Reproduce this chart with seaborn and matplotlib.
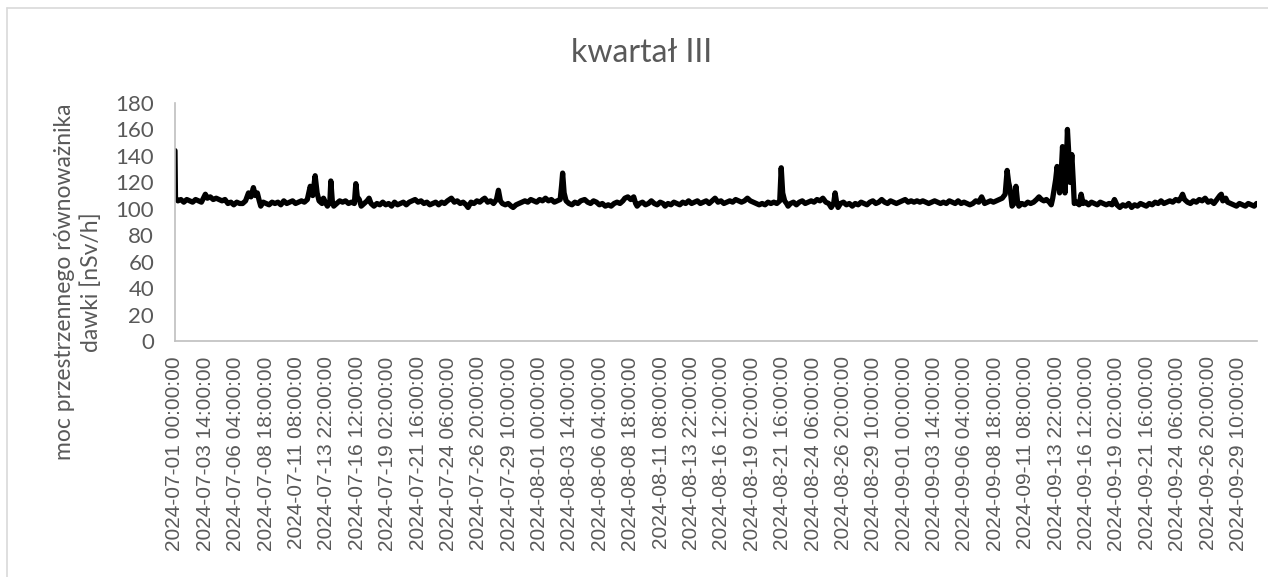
import matplotlib
matplotlib.use('Agg')
import matplotlib.pyplot as plt
import seaborn as sns
import pandas as pd
from matplotlib.lines import Line2D

# Godziny od 2024-07-01 00:00 i odczytane wartości mocy dawki [nSv/h]
hours_a = [0, 1, 6, 12, 18, 24, 30, 36, 42, 48, 54, 62, 66, 72, 78, 84, 90, 96, 102, 108,
           114, 120, 126, 132, 138, 144, 150, 155, 160, 164, 168, 172, 175, 180, 186, 192,
           198, 204, 210, 216, 222, 228, 234, 240, 246, 252, 258, 264, 270, 276, 281, 286,
           290, 294, 300, 303, 308, 311, 316, 318, 321, 324, 330, 336, 342, 348, 354, 360,
           366, 369, 372, 376, 380, 386, 392, 396, 400, 406, 412, 418, 424, 430, 436, 442,
           448, 454, 460, 466, 472, 478, 484, 490, 496, 502, 508, 514, 520, 526, 532, 538, 544]
dose_a = [144, 108, 106, 107, 105, 107, 106, 105, 107, 106, 105, 111, 108, 109, 107, 108, 107, 106, 107, 104,
          105, 103, 105, 104, 104, 106, 112, 109, 116, 110, 112, 106, 102, 105, 104, 103,
          105, 104, 105, 103, 106, 104, 105, 106, 104, 105, 106, 105, 107, 117, 110, 125,
          112, 106, 104, 108, 104, 102, 105, 121, 106, 102, 104, 106, 105, 106, 104, 105,
          104, 119, 109, 107, 102, 104, 106, 108, 104, 102, 104, 103, 105, 103, 104, 102,
          105, 103, 104, 105, 103, 105, 106, 107, 105, 106, 104, 105, 103, 104, 105, 103, 105]

hours_b = [550, 556, 564, 570, 576, 582, 588, 594, 598, 604, 610, 616, 622, 628, 632, 638, 644, 650,
           656, 660, 664, 668, 674, 680, 686, 690, 696, 702, 708, 714, 720, 726, 732, 738, 744, 750,
           756, 762, 768, 774, 780, 786, 789, 791, 794, 798, 804, 810, 816, 822, 828, 836, 842, 848,
           854, 860, 866, 872, 878, 884, 890, 896, 902, 908, 914, 918, 924, 930, 936, 940, 943, 948,
           954, 960, 966, 972, 978, 984, 990, 996, 1000, 1006, 1012, 1018, 1024, 1030, 1036, 1042,
           1048, 1054, 1060, 1066, 1072, 1078, 1084, 1090, 1096]
dose_b = [104, 106, 108, 105, 106, 104, 105, 103, 101, 105, 104, 106, 105, 107, 108, 105, 106, 104,
          107, 114, 106, 104, 103, 104, 102, 101, 103, 104, 105, 106, 105, 107, 106, 105, 107, 106,
          108, 106, 107, 105, 106, 107, 118, 127, 112, 106, 104, 103, 105, 104, 106, 107, 105, 104,
          106, 105, 103, 104, 102, 103, 102, 104, 105, 104, 106, 108, 109, 107, 109, 104, 102, 104,
          105, 103, 104, 106, 104, 103, 105, 104, 102, 104, 103, 105, 104, 103, 105, 104,
          106, 104, 105, 106, 104, 105, 106, 104, 106]

hours_c = [1102, 1108, 1114, 1120, 1126, 1132, 1138, 1144, 1150, 1156, 1162, 1168, 1174, 1180, 1186,
           1192, 1198, 1204, 1210, 1216, 1222, 1228, 1234, 1237, 1240, 1244, 1248, 1251, 1256, 1262,
           1268, 1274, 1280, 1286, 1292, 1298, 1304, 1310, 1316, 1322, 1328, 1334, 1339, 1344, 1347,
           1350, 1353, 1358, 1364, 1370, 1376, 1382, 1388, 1394, 1400, 1406, 1412, 1418, 1424, 1430,
           1436, 1442, 1448, 1454, 1460, 1466, 1472, 1478, 1484, 1490, 1496, 1502, 1508, 1514, 1520,
           1526, 1532, 1538, 1544, 1550, 1556, 1562, 1568, 1574, 1580, 1586, 1592, 1598, 1604, 1610,
           1616, 1622, 1628, 1634]
dose_c = [108, 105, 106, 104, 105, 106, 105, 107, 106, 105, 106, 108, 106, 105, 104,
          103, 104, 103, 105, 104, 105, 104, 106, 131, 112, 106, 104, 102, 104, 105,
          103, 105, 106, 104, 105, 106, 105, 107, 106, 108, 105, 104, 101, 104, 112,
          105, 101, 104, 105, 103, 104, 102, 104, 103, 105, 104, 103, 105, 106, 104,
          105, 107, 105, 104, 106, 105, 104, 105, 106, 107, 105, 106, 105, 106, 105,
          106, 105, 104, 105, 106, 105, 104, 105, 104, 106, 105, 104, 106, 104, 105,
          104, 103, 104, 106]

hours_d = [1640, 1646, 1652, 1658, 1664, 1670, 1676, 1682, 1688, 1694, 1698, 1701, 1704, 1708, 1712,
           1716, 1719, 1722, 1728, 1734, 1740, 1746, 1752, 1758, 1763, 1768, 1773, 1778, 1784, 1788,
           1791, 1794, 1797, 1800, 1803, 1805, 1808, 1811, 1814, 1816, 1819, 1821, 1824, 1826, 1830,
           1833, 1835, 1840, 1845, 1849, 1853, 1858, 1864, 1870, 1876, 1882, 1888, 1894, 1900, 1906,
           1912, 1917, 1922, 1928, 1934, 1940, 1946, 1952, 1958, 1964, 1970, 1976, 1982, 1988, 1994,
           2000, 2006, 2012, 2018, 2024, 2030, 2036, 2042, 2048, 2052, 2056, 2060, 2066, 2072, 2078,
           2084, 2090, 2096, 2102, 2108, 2114, 2120, 2126, 2132, 2135, 2138, 2144, 2148, 2154, 2160,
           2166, 2172, 2178, 2184, 2190, 2196, 2202, 2207]
dose_d = [105, 109, 104, 105, 106, 105, 106, 107, 108, 111, 129, 120, 115, 102, 104,
          117, 106, 102, 104, 103, 105, 104, 105, 107, 109, 107, 106, 107, 105, 103,
          108, 115, 122, 132, 121, 112, 125, 147, 128, 112, 135, 160, 140, 120, 141,
          120, 104, 105, 103, 111, 104, 105, 103, 105, 104, 103, 105, 104, 103, 104,
          103, 107, 103, 101, 103, 102, 104, 101, 103, 102, 104, 103, 102, 104, 103,
          105, 104, 106, 104, 105, 106, 105, 107, 106, 108, 111, 107, 105, 104, 106,
          105, 107, 106, 108, 105, 106, 104, 107, 110, 111, 106, 108, 105, 104, 103,
          102, 104, 103, 102, 104, 103, 102, 104]

title = 'kwartał III'
y_label = 'moc przestrzennego równoważnika\ndawki [nSv/h]'
start = pd.Timestamp('2024-07-01 00:00:00')
tick_step = 62  # co 62 godziny, jak w Excelu

df = pd.DataFrame({'godzina': hours_a + hours_b + hours_c + hours_d,
                   'dawka': dose_a + dose_b + dose_c + dose_d})

sns.set_theme(style='white')
plt.rcParams['font.family'] = ['Lato', 'DejaVu Sans']
grey = '#595959'

fig = plt.figure(figsize=(12.68, 5.77), dpi=100)
ax = fig.add_axes([0.138, 0.409, 0.853, 0.4125])

sns.lineplot(data=df, x='godzina', y='dawka', color='black', linewidth=3.8, ax=ax)

ax.set_xlim(0, 2207)
ax.set_ylim(0, 180)
ax.set_yticks(range(0, 181, 20))
ax.tick_params(axis='y', labelsize=16, labelcolor=grey, length=0, pad=15)

tick_pos = list(range(0, 2208, tick_step))
tick_lab = [(start + pd.Timedelta(hours=h)).strftime('%Y-%m-%d %H:%M:%S') for h in tick_pos]
ax.set_xticks(tick_pos)
ax.set_xticklabels(tick_lab, rotation=90, fontsize=15, color=grey, family='Liberation Sans')
ax.tick_params(axis='x', length=0, pad=11)

ax.set_xlabel('')
ax.set_ylabel('')
for s in ['top', 'right']:
    ax.spines[s].set_visible(False)
for s in ['left', 'bottom']:
    ax.spines[s].set_color('#BFBFBF')
    ax.spines[s].set_linewidth(1.2)

fig.text(0.506, 0.908, title, ha='center', va='center', fontsize=23, color=grey)
fig.text(0.0615, 0.511, y_label, ha='center', va='center', rotation=90,
         fontsize=16.5, color=grey, multialignment='center', linespacing=1.35)

# ramka wykresu (lewa i górna krawędź)
fig.add_artist(Line2D([7 / 1268, 7 / 1268], [0, 1 - 8 / 577], color='#D9D9D9', lw=1.2))
fig.add_artist(Line2D([7 / 1268, 1], [1 - 8 / 577, 1 - 8 / 577], color='#D9D9D9', lw=1.2))

fig.savefig('out.png', dpi=100)
